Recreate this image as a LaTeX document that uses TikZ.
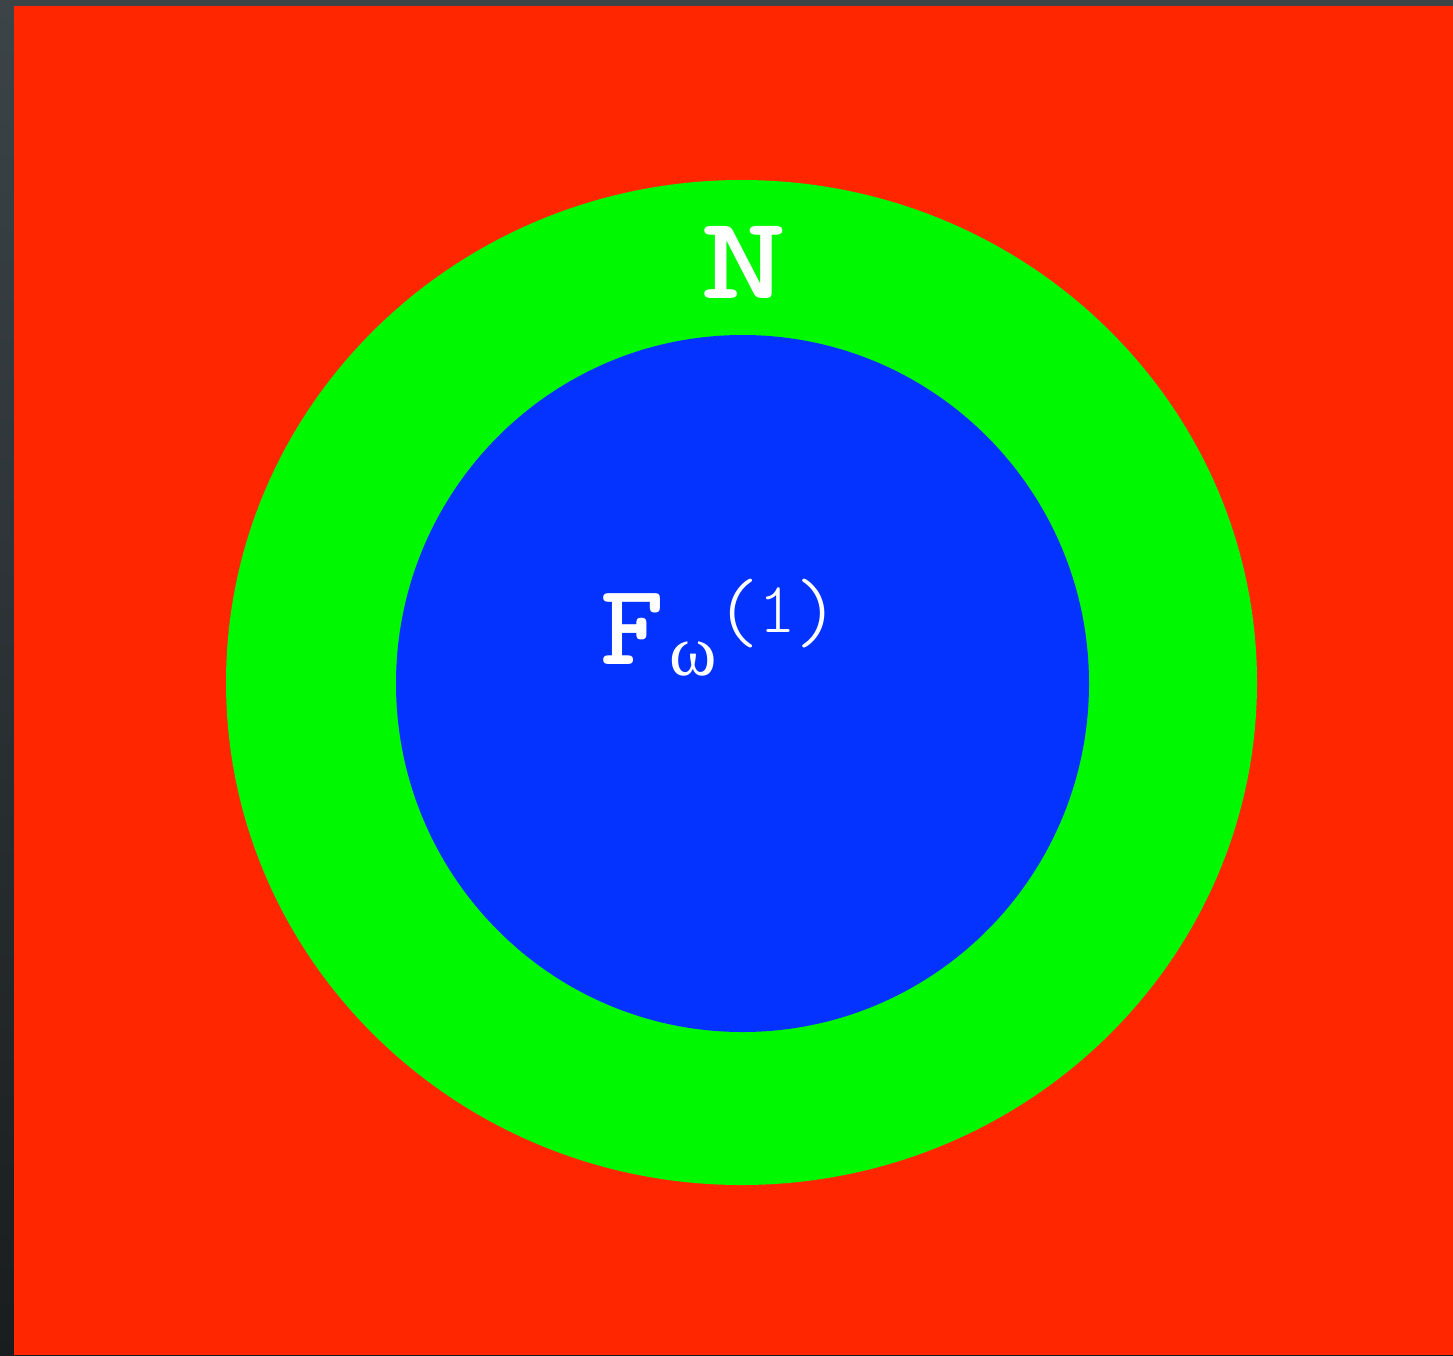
\documentclass[tikz,border=0pt]{standalone}
\usepackage{fontspec}
\newfontfamily\ttbf{lmmonolt10-bold.otf}
\newfontfamily\ttlt{lmmonolt10-regular.otf}
\newfontfamily\grk{Liberation Serif}
\definecolor{bgtop}{HTML}{3C4448}
\definecolor{bgbot}{HTML}{1A1D1F}
\definecolor{redbg}{HTML}{FF2600}
\definecolor{greenring}{HTML}{00F900}
\definecolor{bluecore}{HTML}{0433FF}
\tikzset{lbl/.style={text=white, inner sep=0pt}}
\begin{document}
\begin{tikzpicture}[x=1pt,y=-1pt]
\useasboundingbox (0,0) rectangle (1453,1355);
\shade[top color=bgtop, bottom color=bgbot] (0,0) rectangle (1453,1355);
\fill[redbg] (14,6) rectangle (1453,1355);
\fill[greenring] (741.5,682.5) ellipse [x radius=515.5, y radius=502.5];
\fill[bluecore] (742.5,683.5) ellipse [x radius=346.5, y radius=348.5];
\node[lbl, anchor=base] (n) at (743.5,298) {\scalebox{1.4}[1]{\fontsize{118}{118}\selectfont\ttbf N}};
\node[lbl, anchor=base west] (f) at (600,664) {\scalebox{1.05}[1]{\fontsize{116}{116}\selectfont\ttbf F}\hspace{5pt}\raisebox{-11pt}{\fontsize{72}{72}\selectfont\grk ω}\hspace{-2pt}\raisebox{24pt}{\fontsize{88}{88}\selectfont\ttlt (}\hspace{-2pt}\raisebox{32pt}{\fontsize{72}{72}\selectfont\ttlt 1}\hspace{-2pt}\raisebox{24pt}{\fontsize{88}{88}\selectfont\ttlt )}};
\end{tikzpicture}
\end{document}
